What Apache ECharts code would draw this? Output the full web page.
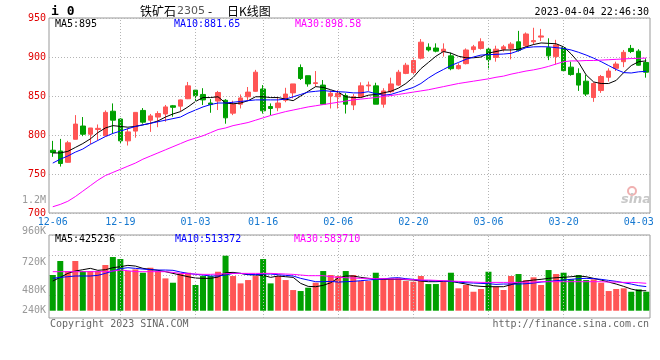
<!DOCTYPE html>
<html><head><meta charset="utf-8">
<script src="https://cdn.jsdelivr.net/npm/echarts@6/dist/echarts.min.js"></script>
<style>html,body{margin:0;padding:0;background:#fff}#c{width:660px;height:360px}</style>
</head><body><div id="c"></div>
<script>
const dates = ['12-06','12-07','12-08','12-09','12-12','12-13','12-14','12-15','12-16','12-19',
'12-20','12-21','12-22','12-23','12-26','12-27','12-28','12-29','12-30','01-03',
'01-04','01-05','01-06','01-09','01-10','01-11','01-12','01-13','01-16','01-17',
'01-18','01-19','01-20','01-30','01-31','02-01','02-02','02-03','02-06','02-07',
'02-08','02-09','02-10','02-13','02-14','02-15','02-16','02-17','02-20','02-21',
'02-22','02-23','02-24','02-27','02-28','03-01','03-02','03-03','03-06','03-07',
'03-08','03-09','03-10','03-13','03-14','03-15','03-16','03-17','03-20','03-21',
'03-22','03-23','03-24','03-27','03-28','03-29','03-30','03-31','04-03','04-04'];
const tickLabels = ['12-06','12-19','01-03','01-16','02-06','02-20','03-06','03-20','04-03'];
const gridDates = ['12-19','01-03','01-16','02-06','02-20','03-06','03-20'];

const opens = [780.5,779.5,765,794.5,811.5,801,807,799,830.5,820.5,
792.5,805,831.5,819,823,827,837.5,837,846.5,857.5,
852,841,843.5,844.5,828,839.5,849,856,859,836.5,
835,844.5,854,886.5,876,866,864,850,849,850.5,
838.5,849,863,863,839.5,855.5,864,879,880,898.5,
912.5,911.5,907,901.5,885,891.5,909.5,911,910,899.5,
910,911,919.5,914.5,919.5,925.5,912,900.5,912,887,
879,869,848,857,874,885.5,894,911,907.5,893];
const closes = [777.5,763.5,790,814,801,809,808.5,829,819,792.5,
804,829,816.5,824.5,827.5,836,835.5,845,863,850.5,
845,839,854.5,822,839.5,847.5,855,880.5,831,834,
841,852.5,865.5,872.5,865.5,867,839.5,853.5,853.5,839.5,
849,863,864,839.5,856.5,865.5,880.5,889.5,895.5,919,
909,907.5,910,885,889,909,913,919.5,896.5,910,
913,916.5,908.5,929.5,921,927,901.5,915.5,882.5,877.5,
864,852.5,866,875,882,891,906,907,889.5,880.5];
const lows = [772,759.5,764.5,794.5,798.5,788.5,793.5,798.5,801.5,789.5,
786.5,796.5,814.5,804,810,817,823.5,830.5,846,843.5,
838.5,828.5,832,814.5,825.5,834,845,855.5,827.5,825.5,
830.5,842,847,870.5,862,862,838.5,834,834,827.5,
832,849,856.5,839.5,835,853.5,863,878,878,897,
907,906,900.5,883,884,890.5,905.5,909.5,884,894,
907,897,907,913,915.5,920.5,896,890.5,881,876,
856.5,850,842.5,854,868.5,882,887,905,889,873.5];
const highs = [792.5,795,792.5,825.5,823,809,813.5,831.5,840.5,821.5,
808.5,829,834.5,827,830.5,838.5,838.5,845.5,868,859,
860,846,856.5,846,844,852,861.5,883.5,864,840.5,
848,860.5,865.5,890.5,876,882,870.5,857,857.5,853.5,
852.5,867.5,868.5,867,860,873.5,883.5,892.5,899,923,
917.5,917.5,917.5,905.5,892,911,915.5,924,912,914.5,
915.5,919,933.5,931.5,937.5,936,924,922,913,894,
885.5,877,867.5,877,885.5,894,909,915.5,910,898.5];
const ma5 = [777,777,779,784,789,795,803,809,812,811,
810,811,813,815,818,823,827,830,836,843,
848,848,849,841,840,841,844,849,849,848,
848,846,844,850,856,862,861,858,855,849,
848,848,851,852,854,856,860,866,874,885,
893,901,907,905,901,899,899,900,905,907,
909,909,910,913,916,918,917.5,917,913,904,
893,877,868,866,866,870,880,889,894,895];
const ma10 = [764,769,773,778,782,788,793,798,802,805,
808,811,813,815,817,819,821,823,828,832,
836,839,841,841,842,843,844,845,845,845,
845,846,849,852,855,856,857,856,855.5,855,
854,854,855.5,853,851,852,855,858,861,866,
873,879,884,889,893,897,900,902.5,903,903.4,
903.8,904.7,908,912,913,913.2,913,912,911,909,
906,902.5,898.5,894,889,884,880,879.5,881,881.65];
const ma30 = [708,711,715,721,728,735,742,748,752,756,
760,764,769,773,777,781,785,789,793,796,
799,803,807,809,812,814,816,819,822,825,
827.5,830,832,834,836,837.5,839,840.5,842,843.5,
845,846,847,848,849.5,850.5,852,853.5,855,856.5,
858,860,862,864,866,867.5,869,870.5,872,874,
875.5,878,880,882,883.5,885.5,888,891,894,895,
895,895.5,895.5,896,896.5,897,897.5,898,898.3,898.58];
const volumes = [760000,1058000,845000,1058000,845000,845000,845000,973000,1143000,1100000,
845000,880000,809000,915000,845000,688000,596000,795000,809000,547000,
738000,738000,830000,1171000,738000,582000,653000,738000,1100000,582000,
738000,653000,440000,419000,490000,596000,845000,760000,739000,845000,
760000,632000,632000,809000,690000,690000,690000,632000,617000,739000,
568000,568000,617000,809000,477000,547000,404000,462000,830000,511000,
441000,739000,781000,653000,711000,547000,866000,781000,809000,668000,
760000,653000,668000,596000,419000,462000,477000,404000,455000,404000];
const volMa5 = [632000,710000,795000,845000,873000,902000,860000,873000,916000,937000,
966000,951000,902000,880000,860000,831000,795000,760000,724000,696000,
689000,689000,717000,809000,816000,795000,767000,760000,753000,710000,
739000,724000,710000,582000,518000,511000,540000,596000,696000,739000,
739000,710000,689000,675000,668000,668000,668000,660000,653000,632000,
618000,618000,625000,625000,596000,568000,533000,518000,511000,511000,
511000,554000,603000,632000,653000,668000,689000,703000,710000,724000,
739000,724000,689000,653000,610000,568000,518000,462000,426000,425236];
const volMa10 = [689000,710000,724000,739000,739000,739000,753000,795000,845000,895000,
916000,902000,887000,873000,866000,866000,860000,824000,795000,774000,
760000,739000,739000,760000,795000,795000,774000,767000,781000,781000,
767000,753000,739000,689000,653000,618000,618000,625000,610000,618000,
625000,639000,653000,668000,675000,696000,703000,682000,668000,646000,
639000,632000,632000,625000,610000,596000,589000,582000,575000,561000,
568000,568000,568000,575000,589000,610000,625000,639000,653000,668000,
682000,689000,682000,668000,646000,625000,596000,568000,533000,513372];
const volMa30 = [831000,831000,831000,831000,831000,831000,831000,831000,845000,866000,
852000,831000,831000,831000,831000,831000,816000,795000,788000,781000,
774000,774000,781000,788000,795000,795000,795000,795000,795000,795000,
788000,781000,774000,760000,746000,746000,746000,724000,710000,703000,
696000,689000,689000,682000,682000,675000,675000,668000,660000,653000,
653000,646000,639000,632000,625000,618000,610000,603000,603000,603000,
603000,603000,603000,610000,610000,618000,618000,618000,618000,618000,
618000,618000,618000,618000,610000,610000,603000,603000,596000,583710];

const MONO = 'DejaVu Sans Mono';
const RED = '#ff5555', GREEN = '#00a000';
const GRIDC = '#b4b4b4';
const chart = echarts.init(document.getElementById('c'), null, {renderer: 'canvas'});

const candleData = dates.map((d, i) => [opens[i], closes[i], lows[i], highs[i]]);
const vlines = {
  silent: true, symbol: ['none', 'none'], label: {show: false}, animation: false,
  lineStyle: {type: [1, 2], color: GRIDC, width: 1},
  data: gridDates.map(d => ({xAxis: d}))
};
function txt(x, y, text, fill, font, align) {
  return {type: 'text', x: x, y: y, silent: true, z: 100,
    style: {text: text, fill: fill, font: font, textAlign: align || 'left', textVerticalAlign: 'middle'}};
}
const F10 = '10px "' + MONO + '"';

chart.setOption({
  animation: false,
  backgroundColor: '#fff',
  grid: [
    {left: 49, right: 10, top: 18, height: 195, show: true, borderColor: '#999', borderWidth: 1, backgroundColor: '#fff'},
    {left: 49, right: 10, top: 235, height: 83, show: true, borderColor: '#999', borderWidth: 1, backgroundColor: '#fff'},
    {left: 49, right: 10, top: 235, height: 60.7, show: false}
  ],
  xAxis: [
    {type: 'category', gridIndex: 0, data: dates, boundaryGap: true,
      axisLine: {show: false}, axisTick: {show: false}, splitLine: {show: false},
      axisLabel: {interval: (idx, val) => tickLabels.indexOf(val) >= 0, color: '#1578d0',
        fontFamily: MONO, fontSize: 10, margin: 4, hideOverlap: false}},
    {type: 'category', gridIndex: 1, data: dates, boundaryGap: true,
      axisLine: {show: false}, axisTick: {show: false}, splitLine: {show: false}, axisLabel: {show: false}},
    {type: 'value', gridIndex: 2, min: 0, max: 1, show: false}
  ],
  yAxis: [
    {type: 'value', gridIndex: 0, min: 700, max: 950, interval: 50,
      axisLine: {show: false}, axisTick: {show: false},
      axisLabel: {color: '#e00000', fontFamily: MONO, fontSize: 10, margin: 3},
      splitLine: {show: true, lineStyle: {type: [1, 2], color: GRIDC}}},
    {type: 'value', gridIndex: 1, min: -155000, max: 1612000,
      axisLine: {show: false}, axisTick: {show: false}, axisLabel: {show: false}, splitLine: {show: false}},
    {type: 'value', gridIndex: 2, min: 0, max: 3, interval: 1, inverse: true,
      axisLine: {show: false}, axisTick: {show: false}, axisLabel: {show: false},
      splitLine: {show: true, lineStyle: {type: [1, 2], color: GRIDC}}}
  ],
  series: [
    {type: 'line', xAxisIndex: 0, yAxisIndex: 0, data: closes, symbol: 'none', silent: true, z: 1,
      lineStyle: {opacity: 0}, markLine: vlines},
    {type: 'candlestick', xAxisIndex: 0, yAxisIndex: 0, data: candleData, barWidth: 5, z: 3,
      itemStyle: {color: RED, color0: GREEN, borderColor: RED, borderColor0: GREEN, borderWidth: 1}},
    {type: 'line', name: 'MA5', xAxisIndex: 0, yAxisIndex: 0, data: ma5, symbol: 'none', z: 4,
      lineStyle: {color: '#000', width: 1}},
    {type: 'line', name: 'MA10', xAxisIndex: 0, yAxisIndex: 0, data: ma10, symbol: 'none', z: 4,
      lineStyle: {color: '#0000ff', width: 1}},
    {type: 'line', name: 'MA30', xAxisIndex: 0, yAxisIndex: 0, data: ma30, symbol: 'none', z: 4,
      lineStyle: {color: '#ff00ff', width: 1}},
    {type: 'bar', xAxisIndex: 1, yAxisIndex: 1, data: volumes, barWidth: 6, z: 3,
      itemStyle: {color: p => closes[p.dataIndex] >= opens[p.dataIndex] ? RED : GREEN},
      markLine: vlines},
    {type: 'line', xAxisIndex: 1, yAxisIndex: 1, data: volMa5, symbol: 'none', z: 4,
      lineStyle: {color: '#000', width: 1}},
    {type: 'line', xAxisIndex: 1, yAxisIndex: 1, data: volMa10, symbol: 'none', z: 4,
      lineStyle: {color: '#0000ff', width: 1}},
    {type: 'line', xAxisIndex: 1, yAxisIndex: 1, data: volMa30, symbol: 'none', z: 4,
      lineStyle: {color: '#ff00ff', width: 1}}
  ],
  graphic: [
    txt(51, 12, 'i 0', '#000', 'bold 13px "' + MONO + '"'),
    txt(140, 11, '铁矿石', '#000', '12px "Noto Sans CJK SC"'),
    txt(177, 11, '2305', '#555', '11px "DejaVu Sans"'),
    txt(208, 11, '-', '#000', '12px "Noto Sans CJK SC"'),
    txt(227, 11, '日K线图', '#000', '12px "Noto Sans CJK SC"'),
    txt(649, 12, '2023-04-04 22:46:30', '#000', F10, 'right'),
    txt(55, 24, 'MA5:895', '#000', F10),
    txt(174, 24, 'MA10:881.65', '#0000ff', F10),
    txt(295, 24, 'MA30:898.58', '#ff00ff', F10),
    txt(46, 200, '1.2M', '#999', F10, 'right'),
    txt(46, 231, '960K', '#999', F10, 'right'),
    txt(46, 262, '720K', '#999', F10, 'right'),
    txt(46, 290, '480K', '#999', F10, 'right'),
    txt(46, 310, '240K', '#999', F10, 'right'),
    txt(55, 239, 'MA5:425236', '#000', F10),
    txt(175, 239, 'MA10:513372', '#0000ff', F10),
    txt(294, 239, 'MA30:583710', '#ff00ff', F10),
    txt(50, 324, 'Copyright 2023 SINA.COM', '#666', F10),
    txt(649, 324, 'http://finance.sina.com.cn', '#666', F10, 'right'),
    {type: 'circle', shape: {cx: 632, cy: 191, r: 4}, silent: true, z: 50,
      style: {fill: 'none', stroke: '#f0b0b0', lineWidth: 2}},
    txt(636, 200, 'sina', '#c8c8c8', 'italic bold 13px "DejaVu Sans"', 'center')
  ]
});
</script>
</body></html>
